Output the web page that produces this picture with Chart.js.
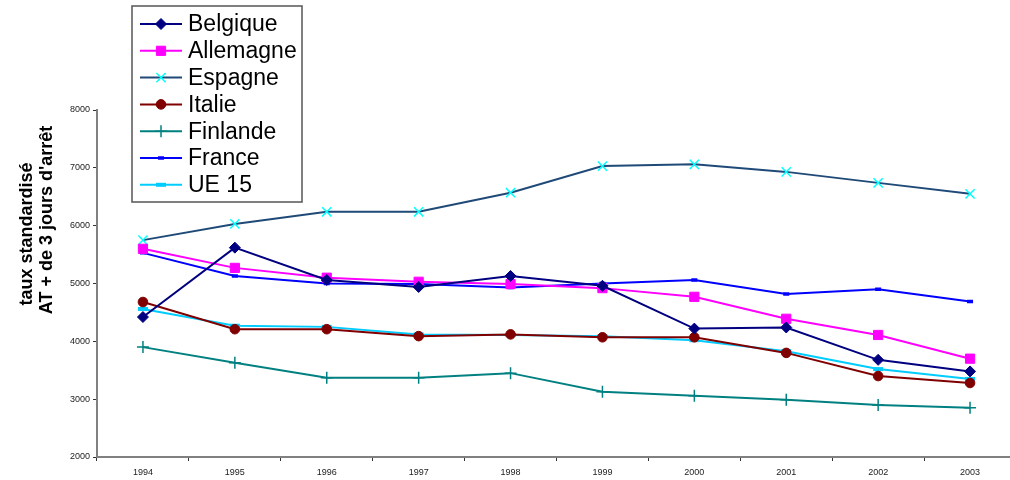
<!DOCTYPE html>
<html>
<head>
<meta charset="utf-8">
<style>
  html, body { margin: 0; padding: 0; background: #fff; overflow: hidden; }
  #chartBox { width: 1010px; height: 480px; overflow: hidden; }
</style>
<script src="https://cdn.jsdelivr.net/npm/chart.js@4.4.1/dist/chart.umd.min.js"></script>
</head>
<body>
<div id="chartBox"><canvas id="myChart" width="1025" height="480"></canvas></div>

<script>
const years = ['1994', '1995', '1996', '1997', '1998', '1999', '2000', '2001', '2002', '2003'];

const belgique  = [4420, 5620, 5060, 4940, 5130, 4960, 4220, 4240, 3680, 3480];
const allemagne = [5600, 5270, 5100, 5030, 4990, 4920, 4770, 4390, 4110, 3700];
const espagne   = [5750, 6030, 6240, 6240, 6570, 7030, 7060, 6930, 6740, 6550];
const italie    = [4680, 4210, 4210, 4090, 4120, 4070, 4070, 3800, 3400, 3280];
const finlande  = [3900, 3630, 3370, 3370, 3450, 3130, 3060, 2990, 2900, 2850];
const france    = [5530, 5130, 5000, 4990, 4930, 5000, 5060, 4820, 4900, 4690];
const ue15      = [4560, 4270, 4250, 4120, 4110, 4090, 4020, 3830, 3520, 3350];

const yTicks = [2000, 3000, 4000, 5000, 6000, 7000, 8000];
const yTitle = ['taux standardisé', 'AT + de 3 jours d\'arrêt'];

const FONT = 'Arial, "Liberation Sans", sans-serif';

function series(label, data, line, marker, style, radius, bw) {
  return {
    label: label,
    data: data,
    borderColor: line,
    borderWidth: 2,
    backgroundColor: marker,
    pointBackgroundColor: marker,
    pointBorderColor: marker,
    pointStyle: style,
    pointRadius: radius,
    pointHoverRadius: radius,
    pointBorderWidth: bw,
    tension: 0,
    fill: false
  };
}

const data = {
  labels: years,
  datasets: [
    series('Belgique', belgique, '#000080', '#000080', 'rectRot', 5.5, 1),
    series('Allemagne', allemagne, '#FF00FF', '#FF00FF', 'rect', 6.5, 1),
    series('Espagne', espagne, '#1F4A78', '#00FFFF', 'crossRot', 6.5, 1.5),
    series('Italie', italie, '#800000', '#800000', 'circle', 4.8, 1),
    series('Finlande', finlande, '#008080', '#008080', 'cross', 6, 1.5),
    series('France', france, '#0000FF', '#0000FF', 'line', 3, 3.5),
    series('UE 15', ue15, '#00CCFF', '#00CCFF', 'line', 5, 4)
  ]
};

// legend box and axis title drawn on top, like the spreadsheet original
const overlay = {
  id: 'overlay',
  afterDraw(chart) {
    const ctx = chart.ctx;
    ctx.save();

    // y axis title, two rotated lines
    ctx.fillStyle = '#000';
    ctx.font = 'bold 18px ' + FONT;
    ctx.textAlign = 'center';
    ctx.textBaseline = 'middle';
    const pos = [[27, 234], [47, 220]];
    yTitle.forEach((t, i) => {
      ctx.save();
      ctx.translate(pos[i][0], pos[i][1]);
      ctx.rotate(-Math.PI / 2);
      ctx.fillText(t, 0, 0);
      ctx.restore();
    });

    // legend
    ctx.fillStyle = '#fff';
    ctx.fillRect(132, 6, 170, 196);
    ctx.strokeStyle = '#555';
    ctx.lineWidth = 1.5;
    ctx.strokeRect(132, 6, 170, 196);

    ctx.font = '23px ' + FONT;
    ctx.textAlign = 'left';
    chart.data.datasets.forEach((ds, i) => {
      const y = 24 + i * 26.8;
      ctx.strokeStyle = ds.borderColor;
      ctx.lineWidth = 2;
      ctx.beginPath();
      ctx.moveTo(140, y);
      ctx.lineTo(182, y);
      ctx.stroke();
      ctx.fillStyle = ds.pointBackgroundColor;
      ctx.strokeStyle = ds.pointBorderColor;
      ctx.lineWidth = ds.pointBorderWidth;
      Chart.helpers.drawPoint(ctx, {
        pointStyle: ds.pointStyle,
        radius: ds.pointRadius,
        rotation: 0,
        borderWidth: ds.pointBorderWidth
      }, 161, y);
      ctx.fillStyle = '#000';
      ctx.fillText(ds.label, 188, y + 1);
    });

    ctx.restore();
  }
};

const config = {
  type: 'line',
  data: data,
  options: {
    responsive: false,
    animation: false,
    layout: {
      padding: { top: 110, left: 0, right: 5, bottom: 0 }
    },
    plugins: {
      legend: { display: false },
      title: { display: false },
      tooltip: { enabled: false }
    },
    scales: {
      x: {
        offset: true,
        grid: {
          offset: true,
          drawOnChartArea: false,
          drawTicks: true,
          tickLength: 4,
          color: '#333',
          lineWidth: 1
        },
        border: { color: '#808080', width: 2 },
        ticks: {
          color: '#222',
          font: { family: FONT, size: 9 },
          padding: 6,
          maxRotation: 0
        },
        afterFit(scale) { scale.height = 23; }
      },
      y: {
        min: 2000,
        max: 8000,
        afterBuildTicks(scale) {
          scale.ticks = yTicks.map(v => ({ value: v }));
        },
        grid: {
          drawOnChartArea: false,
          drawTicks: true,
          tickLength: 4,
          color: '#333',
          lineWidth: 1
        },
        border: { color: '#808080', width: 2 },
        ticks: {
          color: '#222',
          font: { family: FONT, size: 9 },
          padding: 3,
          callback: v => String(v)
        },
        afterFit(scale) { scale.width = 97; }
      }
    }
  },
  plugins: [overlay]
};

var myChart = new Chart(
  document.getElementById('myChart'),
  config
);
</script>
</body>
</html>
